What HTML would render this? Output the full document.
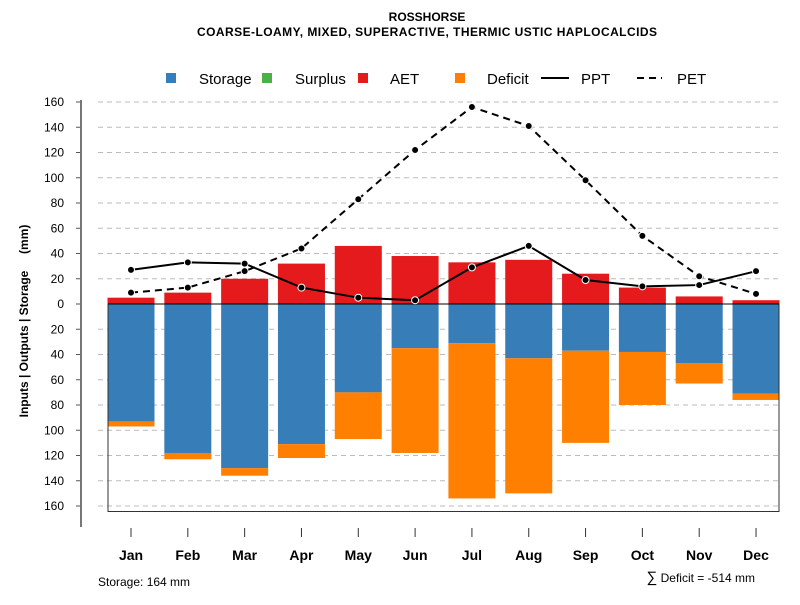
<!DOCTYPE html>
<html><head><meta charset="utf-8"><style>
body{margin:0;background:#fff}
svg text{font-family:"Liberation Sans",sans-serif}
</style></head><body>
<svg id="chart" width="800" height="600" xmlns="http://www.w3.org/2000/svg">
<text x="427" y="21" font-size="12" font-weight="bold" text-anchor="middle">ROSSHORSE</text>
<text x="427" y="36" font-size="12" font-weight="bold" text-anchor="middle" textLength="460">COARSE-LOAMY, MIXED, SUPERACTIVE, THERMIC USTIC HAPLOCALCIDS</text>
<g id="legend" font-size="15">
<rect x="166" y="73" width="10" height="10" fill="#377EB8"/><text x="199" y="84">Storage</text>
<rect x="262" y="73" width="10" height="10" fill="#4DAF4A"/><text x="295" y="84">Surplus</text>
<rect x="358" y="73" width="10" height="10" fill="#E41A1C"/><text x="390" y="84">AET</text>
<rect x="455" y="73" width="10" height="10" fill="#FF7F00"/><text x="487" y="84">Deficit</text>
<line x1="541" y1="78" x2="569" y2="78" stroke="#000" stroke-width="2"/><text x="581" y="84">PPT</text>
<line x1="637" y1="78" x2="662" y2="78" stroke="#000" stroke-width="2" stroke-dasharray="7,5"/><text x="677" y="84">PET</text>
</g>
<g id="grid"></g><g id="bars"></g><g id="lines"></g><g id="axes"></g>
<text transform="translate(28,321) rotate(-90)" font-size="12" font-weight="bold" text-anchor="middle" xml:space="preserve">Inputs | Outputs | Storage     (mm)</text>
<text x="98" y="586" font-size="12">Storage: 164 mm</text>
<text x="755" y="582" font-size="12" text-anchor="end"><tspan font-size="15">∑</tspan> Deficit = -514 mm</text>
</svg>
<script>
const months=["Jan","Feb","Mar","Apr","May","Jun","Jul","Aug","Sep","Oct","Nov","Dec"];
const aet=[5,9,20,32,46,38,33,35,24,13,6,3];
const storage=[93,118,130,111,70,35,31,43,37,38,47,71];
const deficit=[4,5,6,11,37,83,123,107,73,42,16,5];
const ppt=[27,33,32,13,5,3,29,46,19,14,15,26];
const pet=[9,13,26,44,83,122,156,141,98,54,22,8];
const yTicks=[160,140,120,100,80,60,40,20,0,-20,-40,-60,-80,-100,-120,-140,-160];
const NS="http://www.w3.org/2000/svg";
const y=v=>304-v*1.2625;
const x=i=>131+i*56.82;
function mk(tag,attrs,parent){const e=document.createElementNS(NS,tag);for(const k in attrs)e.setAttribute(k,attrs[k]);document.getElementById(parent).appendChild(e);return e;}
yTicks.forEach(t=>{
 if(t!==0){const g=mk('line',{x1:98,x2:779,y1:y(t),y2:y(t),stroke:'#bbb','stroke-dasharray':'5,4'},'grid');
 
 }
 const tk=mk('line',{x1:76,x2:81,y1:y(t),y2:y(t),stroke:'#555'},'axes');
 
 
 const l=mk('text',{x:64,y:y(t)+4,'font-size':12,'text-anchor':'end'},'axes');l.textContent=Math.abs(t);
 
 
});
const ax=mk('line',{x1:81,x2:81,y1:100,y2:527,stroke:'#777','stroke-width':2},'axes');


const bw=47;
months.forEach((m,i)=>{
 const a=mk('rect',{x:x(i)-bw/2,y:y(aet[i]),width:bw,height:y(0)-y(aet[i]),fill:'#E41A1C'},'bars');
 
 
 const s=mk('rect',{x:x(i)-bw/2,y:y(0),width:bw,height:y(-storage[i])-y(0),fill:'#377EB8'},'bars');
 
 
 const d=mk('rect',{x:x(i)-bw/2,y:y(-storage[i]),width:bw,height:y(-storage[i]-deficit[i])-y(-storage[i]),fill:'#FF7F00'},'bars');
 
 
 const tk=mk('line',{x1:x(i),x2:x(i),y1:528,y2:537,stroke:'#333'},'axes');
 
 
 const l=mk('text',{x:x(i),y:560,'font-size':14,'font-weight':'bold','text-anchor':'middle'},'axes');l.textContent=m;
 
 
});
const box=mk('path',{d:`M108 ${y(0)} V511.5 H779 V${y(0)}`,fill:'none',stroke:'#333'},'bars');


const zl=mk('line',{x1:108,x2:779,y1:y(0),y2:y(0),stroke:'#000'},'bars');


[[ppt,'none','ppt'],[pet,'7,5','pet']].forEach(([arr,dash,nm])=>{
 const p=mk('polyline',{points:arr.map((v,i)=>x(i)+','+y(v)).join(' '),fill:'none',stroke:'#000','stroke-width':2,'stroke-dasharray':dash},'lines');
 
 
 arr.forEach((v,i)=>{const c=mk('circle',{cx:x(i),cy:y(v),r:3.5,fill:'#000',stroke:'#fff','stroke-width':1},'lines');
  
  });
});
</script>
</body></html>
